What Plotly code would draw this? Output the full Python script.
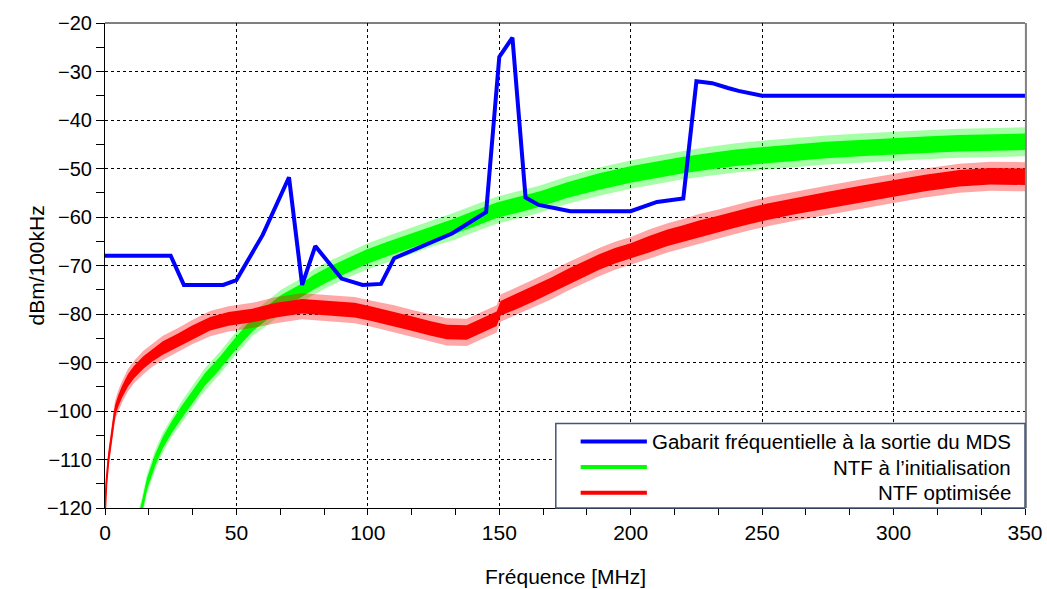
import plotly.graph_objects as go

# ---------------- data ----------------
# Gabarit (mask) : frequency [MHz], level [dBm/100kHz]
mask_f = [0, 25, 30, 45, 50, 60, 70, 75, 80, 90, 98, 105, 110, 120, 132, 142, 145,
          150, 155, 160, 165, 177, 200, 210, 220, 225, 231, 237, 241, 250, 350]
mask_v = [-68, -68, -74, -74, -73, -63.7, -51.8, -74, -66, -72.7, -74, -73.8, -68.5,
          -66.2, -63.4, -60, -59, -27, -23, -56, -57.5, -58.8, -58.8, -56.9, -56.2,
          -32, -32.4, -33.4, -34, -35, -35]

# NTF a l'initialisation (green) : centre, core half-width, spike half-width
init_f = [13, 14, 16, 19, 22, 25.4, 29.2, 32, 34.9, 38, 43.7, 49.4, 56.4, 61.5, 67,
          74.2, 79.2, 85, 92, 99.5, 108, 117.3, 125, 132.5, 141, 149, 157, 165.5,
          175.6, 188, 200.3, 210, 220, 230, 240, 251.7, 262, 274.5, 287, 300, 312,
          325, 337, 350]
init_v = [-122, -120, -115, -110.2, -106.5, -103.3, -100.2, -98, -95.8, -93.5, -90.1,
          -86.3, -82, -79.9, -77.5, -75.3, -73.5, -71.8, -70, -68.2, -66.5, -64.8,
          -63.3, -62, -60.2, -58.6, -57.5, -56.3, -54.5, -52.7, -51.2, -50.2, -49.3,
          -48.5, -47.8, -47.2, -46.7, -46.2, -45.8, -45.4, -45.1, -44.8, -44.6, -44.5]
init_c = [1.2, 1.2, 1.2, 1.2, 1.2, 1.2, 1.3, 1.3, 1.3, 1.3, 1.3, 1.3, 1.4, 1.4, 1.4,
          1.4, 1.5, 1.5, 1.5, 1.5, 1.5, 1.5, 1.5, 1.6, 1.6, 1.6, 1.6, 1.6, 1.6, 1.7,
          1.7, 1.7, 1.7, 1.7, 1.7, 1.7, 1.7, 1.7, 1.7, 1.7, 1.7, 1.7, 1.7, 1.7]
init_s = [2, 2, 2, 2, 2, 2, 2.2, 2.2, 2.2, 2.3, 2.3, 2.3, 2.4, 2.5, 2.5, 2.5, 2.6, 2.6,
          2.6, 2.7, 2.7, 2.7, 2.7, 2.8, 2.8, 2.8, 2.8, 2.8, 2.8, 2.9, 2.9, 2.9, 2.9,
          3, 3, 3, 3, 3, 3, 3, 3, 3, 3, 3]

# NTF optimisee (red)
opt_f = [0, 0.5, 1.3, 2.5, 3.8, 5, 6.5, 8.7, 11, 14.6, 18, 22, 27.8, 33, 40, 47, 56,
         65, 75, 85, 95, 101, 110, 117, 124, 130, 137.6, 145, 149, 150.5, 156, 163,
         170, 176, 182, 188, 194, 200, 207, 214, 220, 226, 233, 239, 245, 252, 262,
         275, 287, 300, 312, 325, 337, 350]
opt_v = [-121, -115, -110, -105, -100, -98, -96, -93.7, -92, -90, -88.5, -87, -85.4,
         -83.8, -82, -81, -80.3, -79.2, -78.4, -78.8, -79.2, -79.9, -81, -82, -83,
         -83.7, -83.8, -82, -81, -78.8, -77.5, -75.8, -74, -72.3, -70.8, -69.3, -68,
         -67, -65.6, -64.3, -63.4, -62.4, -61.5, -60.6, -59.8, -58.9, -57.8, -56.5,
         -55.3, -54.1, -53, -52, -51.6, -51.7]
opt_c = [1, 1, 1.1, 1.1, 1.2, 1.2, 1.2, 1.3, 1.3, 1.3, 1.3, 1.4, 1.4, 1.4, 1.4, 1.4,
         1.4, 1.5, 1.5, 1.5, 1.5, 1.5, 1.5, 1.5, 1.5, 1.5, 1.5, 1.5, 1.5, 1.5, 1.6,
         1.6, 1.6, 1.6, 1.6, 1.6, 1.6, 1.6, 1.7, 1.7, 1.7, 1.7, 1.7, 1.7, 1.7, 1.7,
         1.7, 1.7, 1.7, 1.7, 1.7, 1.7, 1.7, 1.7]
opt_s = [1.5, 1.5, 2, 2, 2, 2.2, 2.2, 2.3, 2.3, 2.4, 2.4, 2.5, 2.5, 2.5, 2.6, 2.6,
         2.6, 2.7, 2.7, 2.7, 2.7, 2.7, 2.8, 2.8, 2.8, 2.8, 2.8, 2.8, 2.8, 2.8, 2.8,
         2.9, 2.9, 2.9, 2.9, 2.9, 2.9, 2.9, 3, 3, 3, 3, 3, 3, 3, 3, 3, 3, 3, 3, 3, 3,
         3, 3]

x_ticks = [0, 50, 100, 150, 200, 250, 300, 350]
y_ticks = [-120, -110, -100, -90, -80, -70, -60, -50, -40, -30, -20]

names = ["Gabarit fréquentielle à la sortie du MDS",
         "NTF à l’initialisation",
         "NTF optimisée"]
colors = ["#0000ff", "#00ff00", "#ff0000"]

FONT = "Arial, Liberation Sans, sans-serif"

fig = go.Figure()


def band(f, lo, hi, color, fillc):
    fig.add_trace(go.Scatter(x=f, y=hi, mode="lines", line=dict(width=0, color=color),
                             showlegend=False, hoverinfo="skip"))
    fig.add_trace(go.Scatter(x=f, y=lo, mode="lines", line=dict(width=0, color=color),
                             fill="tonexty", fillcolor=fillc, showlegend=False,
                             hoverinfo="skip"))


def noisy(f, v, c, s, color, rgba_outer, name):
    band(f, [a - b for a, b in zip(v, s)], [a + b for a, b in zip(v, s)], color, rgba_outer)
    band(f, [a - b for a, b in zip(v, c)], [a + b for a, b in zip(v, c)], color, color)
    fig.add_trace(go.Scatter(x=f, y=v, mode="lines", name=name,
                             line=dict(color=color, width=2), showlegend=False))


noisy(init_f, init_v, init_c, init_s, colors[1], "rgba(0,255,0,0.35)", names[1])
noisy(opt_f, opt_v, opt_c, opt_s, colors[2], "rgba(255,0,0,0.35)", names[2])
fig.add_trace(go.Scatter(x=mask_f, y=mask_v, mode="lines", name=names[0],
                         line=dict(color=colors[0], width=4), showlegend=False))

# frame : top (black) and right (grey)
fig.add_shape(type="line", xref="paper", yref="paper", x0=0, x1=1, y0=1, y1=1,
              line=dict(color="black", width=1))
fig.add_shape(type="line", xref="paper", yref="paper", x0=1.001, x1=1.001, y0=0, y1=1,
              line=dict(color="#808080", width=2))

# manual legend (text right-aligned like the reference)
lx0, lx1, ly0, ly1 = 0.490, 1.0, 0.0, 0.174
fig.add_shape(type="rect", xref="paper", yref="paper", x0=lx0, x1=lx1, y0=ly0, y1=ly1,
              fillcolor="white", line=dict(color="#44557a", width=1.5), layer="above")
leg_y = [0.1373, 0.0843, 0.0314]
for yy, c, n in zip(leg_y, colors, names):
    fig.add_shape(type="line", xref="paper", yref="paper", x0=0.517, x1=0.589,
                  y0=yy, y1=yy, line=dict(color=c, width=4), layer="above")
    fig.add_annotation(xref="paper", yref="paper", x=0.987, y=yy, text=n,
                       showarrow=False, xanchor="right", yanchor="middle",
                       font=dict(family=FONT, size=20.5, color="black"))

# axis titles
fig.add_annotation(xref="paper", yref="paper", x=-0.075, y=0.5, text="dBm/100kHz",
                   textangle=-90, showarrow=False, xanchor="center", yanchor="middle",
                   font=dict(family=FONT, size=21, color="black"))
fig.add_annotation(xref="paper", yref="paper", x=0.5, y=-0.1415, text="Fréquence [MHz]",
                   showarrow=False, xanchor="center", yanchor="middle",
                   font=dict(family=FONT, size=21, color="black"))

grid = dict(showgrid=True, gridcolor="black", gridwidth=1, griddash="3px,3px")
fig.update_xaxes(range=[0, 350], tickvals=x_ticks, ticks="outside", ticklen=6,
                 tickcolor="black", showline=True, linecolor="black", linewidth=1,
                 zeroline=False, automargin=False, ticklabeloverflow="allow",
                 tickfont=dict(family=FONT, size=21, color="black"),
                 minor=dict(tick0=0, dtick=50 / 3, ticks="outside", ticklen=6,
                            tickcolor="black", showgrid=False), **grid)
fig.update_yaxes(range=[-120, -20], tickvals=y_ticks, ticks="outside", ticklen=8,
                 tickcolor="black", showline=True, linecolor="black", linewidth=1,
                 zeroline=False, automargin=False, ticklabeloverflow="allow",
                 tickfont=dict(family=FONT, size=20, color="black"),
                 minor=dict(tick0=-120, dtick=5, ticks="outside", ticklen=8,
                            tickcolor="black", showgrid=False), **grid)

fig.update_layout(width=1047, height=589, margin=dict(l=105, r=22, t=23, b=81),
                  plot_bgcolor="white", paper_bgcolor="white", showlegend=False)

# remove the page's default 8px body margin so the figure fills the window exactly
fig.write_html("out.html", config={"displayModeBar": False},
               post_script="document.body.style.margin='0';")
